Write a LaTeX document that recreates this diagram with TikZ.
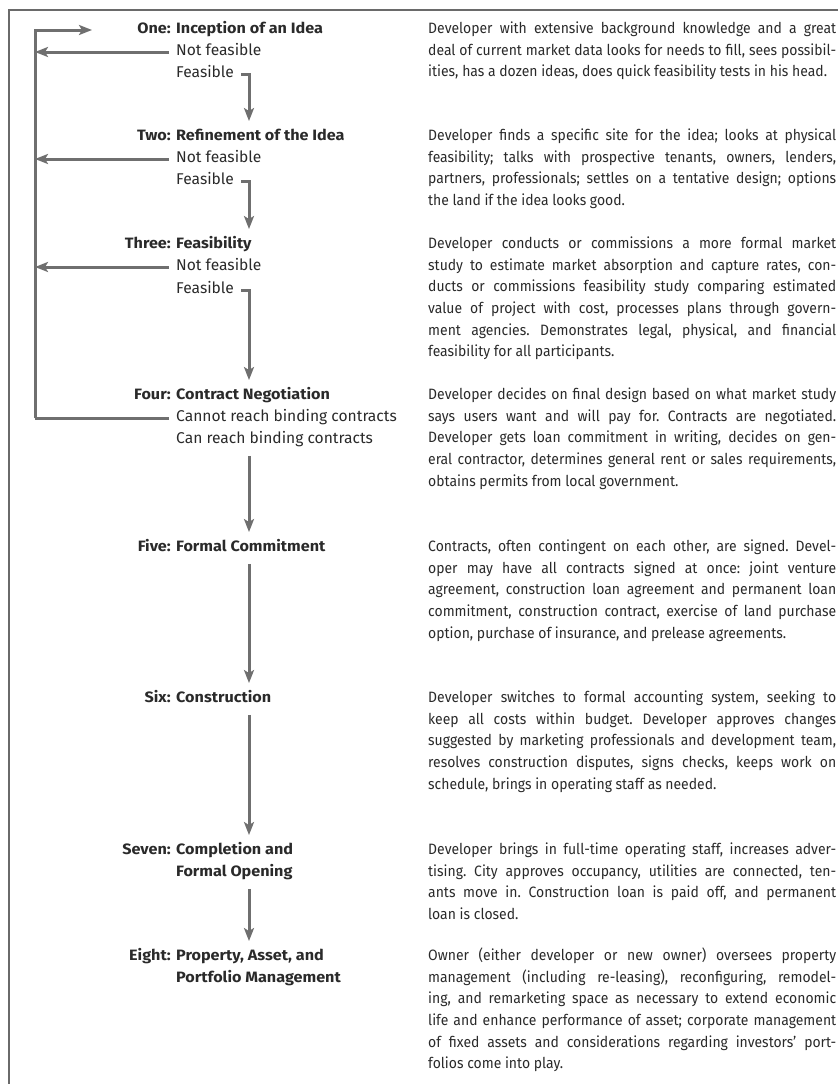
\documentclass[tikz,border=0pt]{standalone}
\usepackage{fontspec}
\setmainfont{Fira Sans}[FakeStretch=0.93]
\newfontfamily\lblfamily{Fira Sans}
\newfontfamily\headfamily{Fira Sans}[FakeStretch=1.08]
\usetikzlibrary{arrows.meta,calc}
\definecolor{arrowgray}{HTML}{6F6F6F}
\definecolor{framegray}{HTML}{6A6A6A}
\definecolor{ink}{HTML}{2A2A2A}
\newcommand{\jl}[1]{\makebox[408pt][s]{\spaceskip=0pt\xspaceskip=0pt\rule{0pt}{13pt}#1}}
\newcommand{\lastln}[1]{\spaceskip=0pt\xspaceskip=0pt\rule{0pt}{13pt}#1}
\tikzset{
  num/.style={text=ink, anchor=east, inner xsep=0pt, inner ysep=9pt, text height=10pt, text depth=3.5pt, font=\headfamily\bfseries\fontsize{15}{18}\selectfont},
  ttl/.style={text=ink, anchor=west, inner xsep=0pt, inner ysep=9pt, text height=10pt, text depth=3.5pt, font=\headfamily\bfseries\fontsize{15}{18}\selectfont},
  sub/.style={text=ink, anchor=west, inner xsep=7pt, inner ysep=9pt, text height=10pt, text depth=3.5pt, font=\lblfamily\fontsize{15.6}{18}\selectfont},
  desc/.style={anchor=north west, inner sep=0pt, text width=410pt, align=left, font=\fontsize{15}{21.67}\selectfont, text=ink},
  flow/.style={draw=arrowgray, line width=3pt, -{Stealth[length=13pt,width=10pt,inset=3pt]}},
  loopline/.style={draw=arrowgray, line width=3pt},
  frameline/.style={draw=framegray, line width=2pt},
}
\begin{document}
\frenchspacing
\begin{tikzpicture}[x=1pt,y=-1pt]
\useasboundingbox (0,0) rectangle (838,1084);
% frame
\coordinate (fb) at (9,1084);
\coordinate (ftl) at (9,10);
\coordinate (ftr) at (838,10);
\draw[frameline] (fb) -- (ftl) -- (ftr);
% columns
\coordinate (lt) at (35,30);
\coordinate (topend) at (92,30);
\coordinate (colx) at (249,0);
% One
\node[num] (n1) at (171,30) {One:};
\node[ttl] (h1) at (176,30) {Inception of an Idea};
\node[sub] (nf1) at (169,52) {Not feasible};
\node[sub] (f1) at (169,74) {Feasible};
% Two
\node[num] (n2) at (171,137) {Two:};
\node[ttl] (h2) at (176,137) {Refinement of the Idea};
\node[sub] (nf2) at (169,159) {Not feasible};
\node[sub] (f2) at (169,181) {Feasible};
% Three
\node[num] (n3) at (171,245) {Three:};
\node[ttl] (h3) at (176,245) {Feasibility};
\node[sub] (nf3) at (169,267) {Not feasible};
\node[sub] (f3) at (169,290) {Feasible};
% Four
\node[num] (n4) at (171,396) {Four:};
\node[ttl] (h4) at (176,396) {Contract Negotiation};
\node[sub] (nf4) at (169,418) {Cannot reach binding contracts};
\node[sub] (f4) at (169,440) {Can reach binding contracts};
% Five
\node[num] (n5) at (171,548) {Five:};
\node[ttl] (h5) at (176,548) {Formal Commitment};
% Six
\node[num] (n6) at (171,699) {Six:};
\node[ttl] (h6) at (176,699) {Construction};
% Seven
\node[num] (n7) at (171,851) {Seven:};
\node[ttl] (h7) at (176,851) {Completion and};
\node[ttl] (h7b) at (176,873) {Formal Opening};
% Eight
\node[num] (n8) at (171,957) {Eight:};
\node[ttl] (h8) at (176,957) {Property, Asset, and};
\node[ttl] (h8b) at (176,979) {Portfolio Management};

% descriptions
\node[desc] (d1) at (428,20.25) {\jl{Developer with extensive background knowledge and a great}\\
\jl{deal of current market data looks for needs to fill, sees possibil-}\\
\lastln{ities, has a dozen ideas, does quick feasibility tests in his head.}};
\node[desc] (d2) at (428,127.25) {\jl{Developer finds a specific site for the idea; looks at physical}\\
\jl{feasibility; talks with prospective tenants, owners, lenders,}\\
\jl{partners, professionals; settles on a tentative design; options}\\
\lastln{the land if the idea looks good.}};
\node[desc] (d3) at (428,235.25) {\jl{Developer conducts or commissions a more formal market}\\
\jl{study to estimate market absorption and capture rates, con-}\\
\jl{ducts or commissions feasibility study comparing estimated}\\
\jl{value of project with cost, processes plans through govern-}\\
\jl{ment agencies. Demonstrates legal, physical, and financial}\\
\lastln{feasibility for all participants.}};
\node[desc] (d4) at (428,386.25) {\jl{Developer decides on final design based on what market study}\\
\jl{says users want and will pay for. Contracts are negotiated.}\\
\jl{Developer gets loan commitment in writing, decides on gen-}\\
\jl{eral contractor, determines general rent or sales requirements,}\\
\lastln{obtains permits from local government.}};
\node[desc] (d5) at (428,538.25) {\jl{Contracts, often contingent on each other, are signed. Devel-}\\
\jl{oper may have all contracts signed at once: joint venture}\\
\jl{agreement, construction loan agreement and permanent loan}\\
\jl{commitment, construction contract, exercise of land purchase}\\
\lastln{option, purchase of insurance, and prelease agreements.}};
\node[desc] (d6) at (428,689.25) {\jl{Developer switches to formal accounting system, seeking to}\\
\jl{keep all costs within budget. Developer approves changes}\\
\jl{suggested by marketing professionals and development team,}\\
\jl{resolves construction disputes, signs checks, keeps work on}\\
\lastln{schedule, brings in operating staff as needed.}};
\node[desc] (d7) at (428,841.25) {\jl{Developer brings in full-time operating staff, increases adver-}\\
\jl{tising. City approves occupancy, utilities are connected, ten-}\\
\jl{ants move in. Construction loan is paid off, and permanent}\\
\lastln{loan is closed.}};
\node[desc] (d8) at (428,947.25) {\jl{Owner (either developer or new owner) oversees property}\\
\jl{management (including re-leasing), reconfiguring, remodel-}\\
\jl{ing, and remarketing space as necessary to extend economic}\\
\jl{life and enhance performance of asset; corporate management}\\
\jl{of fixed assets and considerations regarding investors' port-}\\
\lastln{folios come into play.}};

% loop back
\draw[flow] (nf4.west -| lt) -- (lt) -- (topend);
\draw[flow] (nf1.west) -- (nf1.west -| lt);
\draw[flow] (nf2.west) -- (nf2.west -| lt);
\draw[flow] (nf3.west) -- (nf3.west -| lt);
\draw[loopline] (nf4.west) -- (nf4.west -| lt);
% forward flow
\draw[flow] (f1.east) -| (h2.north -| colx);
\draw[flow] (f2.east) -| (h3.north -| colx);
\draw[flow] (f3.east) -| (h4.north -| colx);
\draw[flow] (f4.south -| colx) -- (h5.north -| colx);
\draw[flow] (h5.south -| colx) -- (h6.north -| colx);
\draw[flow] (h6.south -| colx) -- (h7.north -| colx);
\draw[flow] (h7b.south -| colx) -- (h8.north -| colx);
\end{tikzpicture}
\end{document}
